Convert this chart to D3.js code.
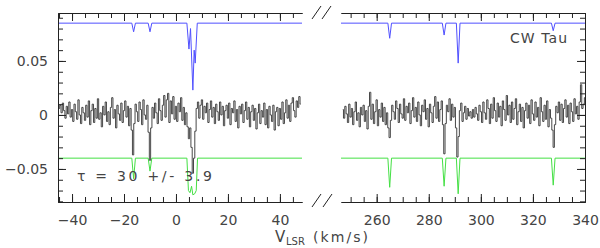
<!DOCTYPE html>
<html>
<head>
<meta charset="utf-8">
<script src="https://cdn.jsdelivr.net/npm/d3@7"></script>
<style>
  body { margin: 0; background: #fff; }
  svg { display: block; }
</style>
</head>
<body>
<svg id="chart" width="600" height="248"></svg>
<script>
// spectrum channels, 0.5 km/s wide, values in units of 0.001
const chanWidth = 0.5
const leftStart = -45
const rightStart = 247

const leftSpec = [
  6, 9, 2, 11, 4, -3, 8, 1, 12, -2,
  5, -6, 10, 3, -4, 14, 0, -8, 7, 2,
  -5, 9, -2, 13, -9, 4, 10, -7, 6, -3,
  15, -4, 2, -11, 8, 0, 12, -6, 3, -9,
  7, 16, -3, 5, -12, 9, 1, -5, 11, -7,
  4, 13, -2, 8, -10, 6, -14, -37, -8, 10,
  3, -6, 12, 5, -9, 14, 0, -4, 9, -16,
  -42, -12, 7, -3, 11, 2, -8, 15, 4, -5,
  9, 18, -2, 14, 20, -7, 13, 1, 17, -4,
  8, -6, 11, 3, 16, -5, 7, -9, 2, -11,
  -22, -12, -30, -54, -40, -15, 6, 12, -3, 9,
  14, -4, 8, 2, 11, -7, 5, 13, -2, 7,
  -8, 10, 3, -5, 12, 0, 8, -10, 4, 9,
  -3, 11, -9, 6, 2, 13, -6, 5, -12, 8,
  1, 10, -7, 4, 12, -4, 7, -11, 3, 9,
  -5, 6, -13, 2, 10, -8, 4, -2, 11, -9,
  5, -12, 8, 0, -6, 9, -14, 3, 7, -10,
  6, -4, 12, -8, 2, 14, -3, 9, -6, 11,
  16, 4, -2, 13, 7, 17, 10
]

const rightSpec = [
  5, -3, 8, 1, -7, 10, -2, 6, -9, 3,
  12, -5, 2, -11, 7, 0, 9, -6, 4, -13,
  8, 21, -4, 10, -8, 3, 14, -10, 5, -2,
  11, -6, 7, -9, 2, -12, -21, -5, 9, 3,
  -4, 13, 6, -7, 10, 1, -3, 15, -5, 8,
  2, 11, -8, 4, 16, -2, 7, -6, 12, 0,
  -10, 9, 3, 14, -4, 6, -11, 10, 2, -7,
  8, 17, -3, 12, -6, 5, 13, -9, -36, -8,
  9, 3, 15, -5, 10, -2, 7, -12, -39, -20,
  4, 11, -6, 2, 8, -4, 6, -1, 3, -3,
  5, -2, 7, 1, -5, 9, 3, -7, 12, 2,
  -4, 14, 6, -8, 10, -3, 16, 4, -6, 11,
  -2, 8, -10, 13, 5, -5, 18, 0, 9, -7,
  12, -4, 6, 15, -9, 3, 10, -6, 7, -12,
  4, 11, -3, 9, -8, 14, 1, -5, 12, -2,
  7, -10, 16, 3, -6, 9, -4, 13, -11, 5,
  -3, -14, -30, -9, 8, 2, 12, -5, 10, -7,
  6, 14, -2, 9, -8, 11, 3, -6, 15, 1,
  8, -4, 12, 28, 6, 10, 16
]

// model profiles (velocity, value in 0.001)
const blueLeftV = [-45.4, -17.0, -16.3, -15.6, -10.7, -10.0, -9.3, 4.2, 5.0, 5.6, 6.5, 7.0, 7.4, 8.2, 48.5]
const blueLeftY = [85, 85, 77, 85, 85, 77, 85, 85, 61, 80, 23, 60, 48, 85, 85]
const blueRightV = [246.3, 264.3, 265.0, 265.7, 285.2, 285.9, 286.6, 290.6, 291.3, 292.0, 327.1, 327.8, 328.5, 340]
const blueRightY = [85, 85, 71, 85, 85, 74, 85, 85, 48, 85, 85, 78, 85, 85]

const greenLeftV = [-45.4, -17.0, -16.3, -15.6, -10.7, -10.0, -9.3, 4.2, 4.8, 5.4, 6.0, 6.5, 7.2, 7.8, 8.3, 48.5]
const greenLeftY = [-40, -40, -59, -40, -40, -52, -40, -40, -70, -72, -66, -74, -73, -70, -40, -40]
const greenRightV = [246.3, 264.3, 265.0, 265.7, 285.2, 285.9, 286.6, 290.6, 291.3, 292.0, 327.1, 327.8, 328.5, 340]
const greenRightY = [-40, -40, -67, -40, -40, -66, -40, -40, -73, -40, -40, -65, -40, -40]

const leftTicks = [-40, -20, 0, 20, 40]
const rightTicks = [260, 280, 300, 320, 340]
const yTicks = [-0.05, 0, 0.05]

const font = "DejaVu Sans, sans-serif"
const ink = "#444"

var svg = d3.select("#chart")

var xL = d3.scaleLinear().domain([-45.4, 48.5]).range([58, 302])
var xR = d3.scaleLinear().domain([246.3, 340]).range([341, 585])
var y = d3.scaleLinear().domain([-0.0806, 0.0944]).range([202, 13])

var fmt = function(d) { return d < 0 ? "\u2212" + Math.abs(d) : String(d) }

function clip(id, x) {
    svg.append("clipPath").attr("id", id)
      .append("rect")
        .attr("x", x.range()[0]).attr("y", 13)
        .attr("width", x.range()[1] - x.range()[0]).attr("height", 189)
}
clip("clipL", xL)
clip("clipR", xR)

function panel(x, clipId, start, spec, bV, bY, gV, gY) {
    var g = svg.append("g").attr("clip-path", "url(#" + clipId + ")")

    var line = d3.line()
        .x(function(d) { return x(d[0]) })
        .y(function(d) { return y(d[1] / 1000) })

    g.append("path")
        .datum(bV.map(function(v, i) { return [v, bY[i]] }))
        .attr("d", line)
        .attr("fill", "none")
        .attr("stroke", "#5050ff")
        .attr("stroke-width", 1)

    g.append("path")
        .datum(gV.map(function(v, i) { return [v, gY[i]] }))
        .attr("d", line)
        .attr("fill", "none")
        .attr("stroke", "#44e044")
        .attr("stroke-width", 1)

    g.append("path")
        .datum(spec.map(function(s, i) { return [start + chanWidth * i, s] }))
        .attr("d", line.curve(d3.curveStep))
        .attr("fill", "none")
        .attr("stroke", "#333")
        .attr("stroke-width", 0.9)
}

panel(xL, "clipL", leftStart, leftSpec, blueLeftV, blueLeftY, greenLeftV, greenLeftY)
panel(xR, "clipR", rightStart, rightSpec, blueRightV, blueRightY, greenRightV, greenRightY)

function styleAxis(g) {
    g.attr("font-family", font).attr("font-size", 14).style("color", "#222")
    g.selectAll("text").attr("fill", ink)
}

function xAxes(x, majors) {
    var minors = d3.range(Math.ceil(x.domain()[0] / 5) * 5, x.domain()[1], 5)

    svg.append("g").attr("transform", "translate(0,202)")
        .call(d3.axisBottom(x).tickValues(majors).tickSize(-8).tickSizeOuter(0).tickPadding(13).tickFormat(fmt))
        .call(styleAxis)
    svg.append("g").attr("transform", "translate(0,202)")
        .call(d3.axisBottom(x).tickValues(minors).tickSize(-5).tickSizeOuter(0).tickFormat(""))
        .call(styleAxis)
    svg.append("g").attr("transform", "translate(0,13)")
        .call(d3.axisTop(x).tickValues(majors).tickSize(-8).tickSizeOuter(0).tickFormat(""))
        .call(styleAxis)
    svg.append("g").attr("transform", "translate(0,13)")
        .call(d3.axisTop(x).tickValues(minors).tickSize(-5).tickSizeOuter(0).tickFormat(""))
        .call(styleAxis)
}
xAxes(xL, leftTicks)
xAxes(xR, rightTicks)

var yMinors = d3.range(-8, 10).map(function(d) { return d / 100 })

svg.append("g").attr("transform", "translate(58,0)")
    .call(d3.axisLeft(y).tickValues(yTicks).tickSize(-8).tickSizeOuter(0).tickPadding(10).tickFormat(fmt))
    .call(styleAxis)
svg.append("g").attr("transform", "translate(58,0)")
    .call(d3.axisLeft(y).tickValues(yMinors).tickSize(-5).tickSizeOuter(0).tickFormat(""))
    .call(styleAxis)
svg.append("g").attr("transform", "translate(585,0)")
    .call(d3.axisRight(y).tickValues(yTicks).tickSize(-8).tickSizeOuter(0).tickFormat(""))
    .call(styleAxis)
svg.append("g").attr("transform", "translate(585,0)")
    .call(d3.axisRight(y).tickValues(yMinors).tickSize(-5).tickSizeOuter(0).tickFormat(""))
    .call(styleAxis)

// axis break marks
var breaks = [[312, 19, 321, 6], [322, 19, 331, 6], [312, 207, 321, 194], [323, 207, 332, 194]]
svg.selectAll(".brk")
    .data(breaks)
    .enter().append("line")
      .attr("x1", function(d) { return d[0] })
      .attr("y1", function(d) { return d[1] })
      .attr("x2", function(d) { return d[2] })
      .attr("y2", function(d) { return d[3] })
      .attr("stroke", "#222")
      .attr("stroke-width", 1)

// labels
svg.append("text").attr("x", 275).attr("y", 242)
    .attr("font-family", font).attr("font-size", 15).attr("fill", ink).text("V")
svg.append("text").attr("x", 286).attr("y", 245)
    .attr("font-family", font).attr("font-size", 10).attr("fill", ink).text("LSR")
svg.append("text").attr("x", 313).attr("y", 242)
    .attr("font-family", font).attr("font-size", 14).attr("fill", ink)
    .attr("textLength", 55).attr("lengthAdjust", "spacing").text("(km/s)")

svg.append("text").attr("x", 510).attr("y", 43)
    .attr("font-family", font).attr("font-size", 14).attr("fill", ink)
    .attr("textLength", 57).attr("lengthAdjust", "spacing").text("CW Tau")

svg.append("text").attr("x", 77).attr("y", 181)
    .attr("font-family", font).attr("font-size", 14).attr("fill", ink)
    .attr("textLength", 135).attr("lengthAdjust", "spacing").text("\u03c4 = 30 +/- 3.9")
</script>
</body>
</html>
